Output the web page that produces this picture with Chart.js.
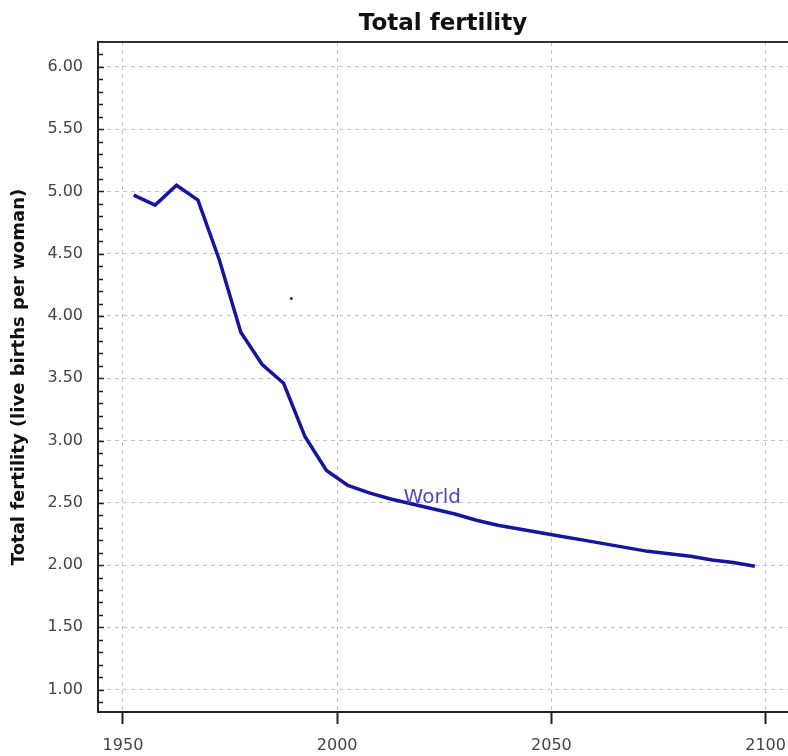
<!DOCTYPE html>
<html>
<head>
<meta charset="utf-8">
<script src="https://cdn.jsdelivr.net/npm/chart.js@4/dist/chart.umd.min.js"></script>
<style>
  html, body { margin: 0; padding: 0; background: #fff; overflow: hidden; }
  #wrap { width: 788px; height: 756px; overflow: hidden; }
</style>
</head>
<body>
<div id="wrap"><canvas id="fertChart" width="800" height="756"></canvas></div>
<script>
// period mid-years and world total fertility
const years = [1952.5, 1957.5, 1962.5, 1967.5, 1972.5, 1977.5, 1982.5, 1987.5, 1992.5, 1997.5,
               2002.5, 2007.5, 2012.5, 2017.5, 2022.5, 2027.5, 2032.5, 2037.5, 2042.5, 2047.5,
               2052.5, 2057.5, 2062.5, 2067.5, 2072.5, 2077.5, 2082.5, 2087.5, 2092.5, 2097.5];
const worldTfr = [4.97, 4.89, 5.05, 4.93, 4.45, 3.87, 3.61, 3.46, 3.03, 2.76,
                  2.64, 2.58, 2.53, 2.49, 2.45, 2.41, 2.36, 2.32, 2.29, 2.26,
                  2.23, 2.20, 2.17, 2.14, 2.11, 2.09, 2.07, 2.04, 2.02, 1.99];
const xTicks = [1950, 2000, 2050, 2100];
const yTicks = [1.0, 1.5, 2.0, 2.5, 3.0, 3.5, 4.0, 4.5, 5.0, 5.5, 6.0];
const yMinorTicks = [0.9, 1.1, 1.2, 1.3, 1.4, 1.6, 1.7, 1.8, 1.9, 2.1, 2.2, 2.3, 2.4, 2.6, 2.7, 2.8, 2.9,
                     3.1, 3.2, 3.3, 3.4, 3.6, 3.7, 3.8, 3.9, 4.1, 4.2, 4.3, 4.4, 4.6, 4.7, 4.8, 4.9,
                     5.1, 5.2, 5.3, 5.4, 5.6, 5.7, 5.8, 5.9, 6.1];
const strayDot = [{ x: 1989.3, y: 4.14 }];
const seriesLabel = 'World';
const seriesLabelAt = { x: 2015.5, y: 2.50 };

const lineColor = '#1515a0';
const gridColor = '#c4c4c4';

// frame, inner minor ticks, title and series label
const extrasPlugin = {
    id: 'extras',
    beforeDatasetsDraw(chart) {
        const ctx = chart.ctx;
        const area = chart.chartArea;
        const y = chart.scales.y;
        ctx.save();
        ctx.strokeStyle = '#222';
        ctx.lineWidth = 1.5;
        yMinorTicks.forEach(function(v) {
            const py = Math.round(y.getPixelForValue(v)) + 0.5;
            ctx.beginPath();
            ctx.moveTo(area.left, py);
            ctx.lineTo(area.left + 5, py);
            ctx.stroke();
        });
        yTicks.forEach(function(v) {
            const py = Math.round(y.getPixelForValue(v)) + 0.5;
            ctx.beginPath();
            ctx.moveTo(area.left, py);
            ctx.lineTo(area.left + 6, py);
            ctx.stroke();
        });
        ctx.restore();
    },
    afterDraw(chart) {
        const ctx = chart.ctx;
        const area = chart.chartArea;
        const x = chart.scales.x;
        const y = chart.scales.y;
        ctx.save();
        ctx.strokeStyle = '#333';
        ctx.lineWidth = 2;
        ctx.beginPath();
        ctx.moveTo(area.left, area.top);
        ctx.lineTo(area.right, area.top);
        ctx.stroke();

        ctx.fillStyle = '#111';
        ctx.font = 'bold 23px "DejaVu Sans"';
        ctx.textAlign = 'center';
        ctx.textBaseline = 'middle';
        ctx.fillText('Total fertility', (area.left + 788) / 2, 24);

        ctx.fillStyle = '#4a4ac4';
        ctx.font = '20px "DejaVu Sans"';
        ctx.textAlign = 'left';
        ctx.textBaseline = 'alphabetic';
        ctx.fillText(seriesLabel, x.getPixelForValue(seriesLabelAt.x), y.getPixelForValue(seriesLabelAt.y));
        ctx.restore();
    }
};

const ctx = document.getElementById('fertChart').getContext('2d');
new Chart(ctx, {
    type: 'line',
    data: {
        datasets: [{
            label: seriesLabel,
            data: years.map(function(yr, i) { return { x: yr, y: worldTfr[i] }; }),
            borderColor: lineColor,
            borderWidth: 3.5,
            pointRadius: 0,
            tension: 0,
            fill: false
        }, {
            label: 'dot',
            data: strayDot,
            showLine: false,
            pointRadius: 1.5,
            pointBackgroundColor: '#333',
            pointBorderWidth: 0
        }]
    },
    options: {
        responsive: false,
        animation: false,
        layout: { padding: { top: 42, right: 0, left: 0, bottom: 0 } },
        plugins: {
            legend: { display: false },
            tooltip: { enabled: false },
            title: { display: false }
        },
        scales: {
            x: {
                type: 'linear',
                min: 1944.17,
                max: 2107.1,
                afterBuildTicks: function(scale) {
                    scale.ticks = xTicks.map(function(v) { return { value: v }; });
                },
                afterFit: function(scale) {
                    scale.height = 44;
                    scale.paddingLeft = 0;
                    scale.paddingRight = 0;
                },
                grid: {
                    color: gridColor,
                    lineWidth: 1,
                    drawTicks: true,
                    tickLength: 12,
                    tickColor: '#222',
                    tickWidth: 2,
                    tickBorderDash: []
                },
                border: { display: true, color: '#222', width: 2, dash: [4, 4] },
                ticks: {
                    color: '#444',
                    font: { family: 'DejaVu Sans', size: 16 },
                    padding: 12,
                    maxRotation: 0,
                    callback: function(v) { return String(v); }
                }
            },
            y: {
                type: 'linear',
                min: 0.82,
                max: 6.2,
                afterBuildTicks: function(scale) {
                    scale.ticks = yTicks.map(function(v) { return { value: v }; });
                },
                afterFit: function(scale) { scale.width = 98; },
                grid: {
                    color: gridColor,
                    lineWidth: 1,
                    drawTicks: false
                },
                border: { display: true, color: '#222', width: 2, dash: [4, 4] },
                ticks: {
                    color: '#444',
                    font: { family: 'DejaVu Sans', size: 16 },
                    padding: 15,
                    callback: function(v) { return v.toFixed(2); }
                },
                title: {
                    display: true,
                    text: 'Total fertility (live births per woman)',
                    color: '#111',
                    font: { family: 'DejaVu Sans', size: 18, weight: 'bold' },
                    padding: { top: 9, bottom: 0 }
                }
            }
        }
    },
    plugins: [extrasPlugin]
});
</script>
</body>
</html>
